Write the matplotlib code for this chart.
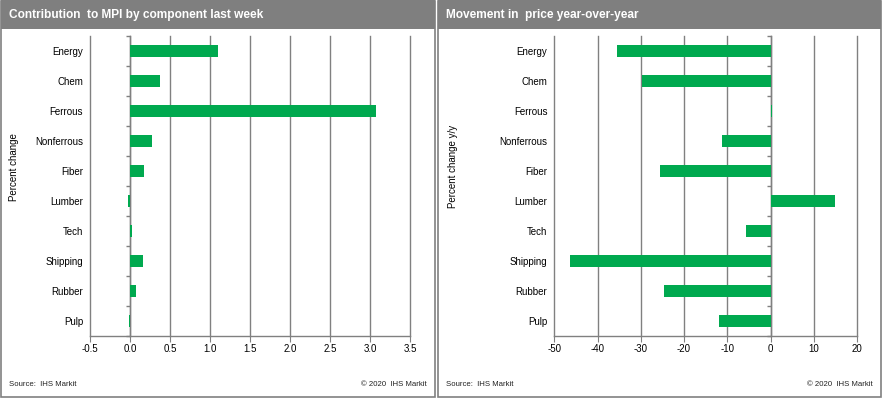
import matplotlib
matplotlib.use('Agg')
import matplotlib.pyplot as plt
from matplotlib.patches import Rectangle

plt.rcParams['font.family'] = ['Liberation Sans', 'DejaVu Sans']

# data
components = ['Energy', 'Chem', 'Ferrous', 'Nonferrous', 'Fiber',
              'Lumber', 'Tech', 'Shipping', 'Rubber', 'Pulp']
contribution = [1.10, 0.37, 3.07, 0.27, 0.17, -0.03, 0.02, 0.16, 0.08, -0.015]
yoy_change = [-35.5, -29.7, 0.4, -11.2, -25.5, 15.0, -5.6, -46.4, -24.6, -11.9]

left_ticks = [-0.5, 0.0, 0.5, 1.0, 1.5, 2.0, 2.5, 3.0, 3.5]
left_ticklabels = ['-0.5', '0.0', '0.5', '1.0', '1.5', '2.0', '2.5', '3.0', '3.5']
right_ticks = [-50, -40, -30, -20, -10, 0, 10, 20]
right_ticklabels = ['-50', '-40', '-30', '-20', '-10', '0', '10', '20']

GREEN = '#00a94f'
GREY = '#808080'
HEADER = '#7f7f7f'

W, H = 882, 398
fig = plt.figure(figsize=(W / 100, H / 100), dpi=100)


def px_box(x0, x1, y0, y1):
    # pixel box (top-left origin) -> figure fraction rect
    return [x0 / W, 1 - y1 / H, (x1 - x0) / W, (y1 - y0) / H]


def panel(x0, x1, title):
    fig.patches.append(Rectangle((x0 / W, 1 - 396.5 / H), (x1 - x0) / W, 396 / H,
                                 transform=fig.transFigure, facecolor='white',
                                 edgecolor=GREY, linewidth=1.2, zorder=-2))
    fig.patches.append(Rectangle((x0 / W, 1 - 29 / H), (x1 - x0) / W, 29 / H,
                                 transform=fig.transFigure, facecolor=HEADER,
                                 edgecolor='none', zorder=-1))
    fig.text((x0 + 8) / W, 1 - 15 / H, title, color='white', fontsize=8.6,
             fontweight='bold', va='center', ha='left')
    fig.text((x0 + 8) / W, 1 - 384 / H, 'Source:  IHS Markit', fontsize=5.6,
             va='center', ha='left', color='#222222')
    fig.text((x1 - 8) / W, 1 - 384 / H, '\u00a9 2020  IHS Markit', fontsize=5.6,
             va='center', ha='right', color='#222222')


def bar_chart(rect, values, xlim, ticks, ticklabels, zero_frac):
    ax = fig.add_axes(rect)
    ax.set_zorder(2)
    ax.patch.set_visible(False)
    y = list(range(len(components)))
    ax.barh(y, values, height=0.4, color=GREEN, zorder=3)
    ax.set_ylim(len(components) - 0.5, -0.5)
    ax.set_xlim(*xlim)
    ax.set_xticks(ticks)
    ax.set_xticklabels(ticklabels)
    ax.set_yticks(y)
    ax.set_yticklabels(components)
    ax.tick_params(axis='y', length=0, pad=5, labelsize=7)
    ax.tick_params(axis='x', length=4, color=GREY, pad=2, labelsize=7)
    ax.grid(axis='x', color=GREY, linewidth=1)
    for gl in ax.get_xgridlines():
        gl.set_clip_on(False)
    ax.set_axisbelow(True)
    for s in ['top', 'right', 'left']:
        ax.spines[s].set_visible(False)
    ax.spines['bottom'].set_color(GREY)
    ax.spines['bottom'].set_linewidth(1)
    # category axis crossing at zero, with ticks at category boundaries
    sec = ax.secondary_yaxis(zero_frac)
    sec.set_yticks([i - 0.5 for i in range(len(components) + 1)])
    sec.set_yticklabels([])
    sec.yaxis.set_ticks_position('left')
    sec.tick_params(length=3, color=GREY, width=1)
    sec.spines['left'].set_visible(True)
    sec.spines['right'].set_visible(False)
    sec.spines['left'].set_color(GREY)
    sec.spines['left'].set_linewidth(1)
    return ax


panel(1, 435, 'Contribution  to MPI by component last week')
panel(438, 881, 'Movement in  price year-over-year')

bar_chart(px_box(90, 410, 36, 335.5), contribution, (-0.5, 3.5),
          left_ticks, left_ticklabels, 0.5 / 4.0)
bar_chart(px_box(554.3, 857, 36, 335.5), yoy_change, (-50, 20),
          right_ticks, right_ticklabels, 50 / 70)

fig.text(14 / W, 1 - 167 / H, 'Percent change', rotation=90, fontsize=7,
         va='center', ha='center')
fig.text(453 / W, 1 - 166 / H, 'Percent change y/y', rotation=90, fontsize=7,
         va='center', ha='center')

fig.savefig('out.png', dpi=100)
